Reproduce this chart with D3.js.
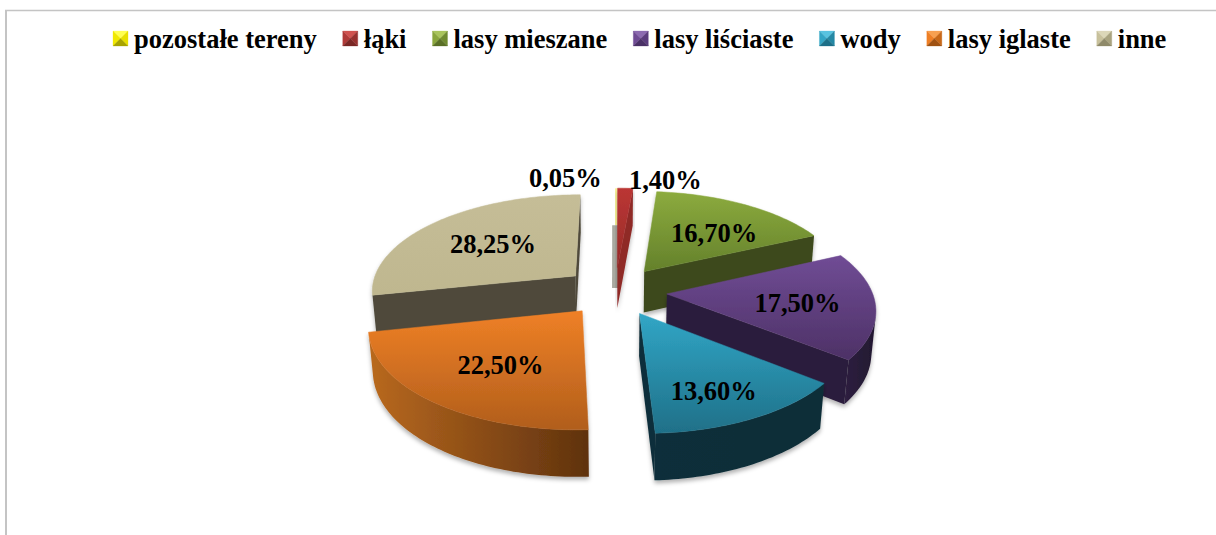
<!DOCTYPE html>
<html><head><meta charset="utf-8">
<script src="https://cdn.jsdelivr.net/npm/d3@7/dist/d3.min.js"></script>
<style>html,body{margin:0;padding:0;background:#fff}svg{display:block}text{font-family:"Liberation Serif",serif;font-weight:bold;fill:#000}</style>
</head><body><svg id="c" width="1216" height="535"></svg>
<script>
const categories=["pozostałe tereny","łąki","lasy mieszane","lasy liściaste","wody","lasy iglaste","inne"];
const values=[0.05,1.40,16.70,17.50,13.60,22.50,28.25];
const valueLabels=["0,05%","1,40%","16,70%","17,50%","13,60%","22,50%","28,25%"];
const topColors=[["#fbf59a","#f5ee90"],["#bb3634","#962a28"],["#8cab3e","#64812b"],["#704c95","#4d3166"],["#31a6c6","#1f7088"],["#ef8026","#b15e1c"],["#c5bd97","#bfb78f"]];
const rimColors=[["#8f8f70","#8f8f70"],["#7d2422","#8f2b29"],["#3f4c1b","#3a4618"],["#2e2040","#221830"],["#0f2f3a","#0f2e38"],["#b9691f","#5f320e"],["#524d3c","#4d483a"]];
const wallColors=["#b0b09a","#8f2a28","#3d4a1c","#2c1f3c","#0f2f3a","#63340f","#4f4a3b"];
const legendSwatch=[["#ffff50","#f0e800","#e8e000","#a8a400"],["#d0524f","#b03a38","#96302e","#7a2725"],["#a9c45c","#8aa63c","#6f8a2f","#5a7026"],["#8c6ab0","#6f4b94","#5a3b7c","#4a3066"],["#58c3e0","#33a5c5","#2488a4","#1c6f88"],["#f7a050","#ee7f25","#c86818","#a05212"],["#dcd7b8","#c8c19c","#a9a37f","#8f8a6a"]];
const labelFrac=[1.08,1.15,0.62,0.62,0.62,0.62,0.62];
const labelNudge=[[-50,-5],[39,2],[5,4],[2,2],[7,16],[7,0],[7,2]];

const W=1216,H=535,R=205,explode=52,h=48,sinP=0.47,cosP=Math.sqrt(1-sinP*sinP),D=1300,cx=615,cy=291;
const svg=d3.select("#c");
const defs=svg.append("defs");
const f=defs.append("filter").attr("id","sh").attr("x","-10%").attr("y","-10%").attr("width","120%").attr("height","125%");
f.append("feDropShadow").attr("dx",0).attr("dy",3).attr("stdDeviation",2.2).attr("flood-color","#000").attr("flood-opacity",0.3);
defs.append("filter").attr("id","soft").attr("x","-100%").attr("y","-20%").attr("width","300%").attr("height","140%").append("feGaussianBlur").attr("stdDeviation",0.7);

svg.append("line").attr("x1",6).attr("x2",6).attr("y1",10).attr("y2",H).attr("stroke","#c4c4c4").attr("stroke-width",2);
svg.append("line").attr("x1",5).attr("x2",W).attr("y1",10.5).attr("y2",10.5).attr("stroke","#c4c4c4").attr("stroke-width",1.5);

function project(X,Y,Z){
  const yy=Y*sinP+Z*cosP, dp=Y*cosP-Z*sinP, p=1/(1+dp/D);
  return [cx+X*p, cy-yy*p];
}
const pie=d3.pie().sort(null).value(d=>d);
const arcs=pie(values);
const line=d3.line();
const area2=q=>{let s=0;for(let i=0;i<q.length;i++){const a=q[i],b=q[(i+1)%q.length];s+=a[0]*b[1]-b[0]*a[1];}return s/2;};

function grad(id,cols,x2,y2){
  const g=defs.append("linearGradient").attr("id",id).attr("x1",0).attr("y1",0).attr("x2",x2).attr("y2",y2);
  g.append("stop").attr("offset",0).attr("stop-color",cols[0]);
  g.append("stop").attr("offset",1).attr("stop-color",cols[1]);
}
const order=[6,0,1,2,3,5,4];
const g=svg.append("g");
order.forEach(i=>{
  const a=arcs[i], mid=(a.startAngle+a.endAngle)/2;
  const ox=explode*Math.sin(mid), oy=explode*Math.cos(mid);
  const pt=(ang,r,z)=>project(ox+r*Math.sin(ang),oy+r*Math.cos(ang),z);
  const n=Math.max(2,Math.ceil((a.endAngle-a.startAngle)/0.02));
  const angs=d3.range(n+1).map(k=>a.startAngle+(a.endAngle-a.startAngle)*k/n);
  grad("t"+i,topColors[i],0,1);
  grad("r"+i,rimColors[i],1,0);
  if(i===0){
    // the almost empty slice: a pale sliver with a grey side below it
    const s=pt(mid,R,0), e=pt(mid,R*0.5,0), w0=pt(mid,R*0.5,0), w1=pt(mid,0,-h*0.5);
    g.append("path").attr("d",line([[s[0]+1,s[1]],[e[0]+1,e[1]]])).attr("stroke",topColors[0][0]).attr("stroke-width",2.5).attr("fill","none");
    g.append("path").attr("d",line([[w0[0]-3,w0[1]],[w0[0]+3,w0[1]],[w1[0]+3,w1[1]],[w1[0]-3,w1[1]]])+"Z").attr("fill","#a9a9a0").attr("filter","url(#soft)");
    return;
  }
  const sg=g.append("g").attr("filter","url(#sh)");
  const wallS=[pt(a.startAngle,0,0),pt(a.startAngle,R,0),pt(a.startAngle,R,-h),pt(a.startAngle,0,-h)];
  const wallE=[pt(a.endAngle,0,0),pt(a.endAngle,0,-h),pt(a.endAngle,R,-h),pt(a.endAngle,R,0)];
  [wallS,wallE].forEach(q=>{ if(area2(q)<0) sg.append("path").attr("d",line(q)+"Z").attr("fill",wallColors[i]); });
  const tops=angs.map(t=>pt(t,R,0)), bots=angs.map(t=>pt(t,R,-h));
  const vis=[];
  for(let k=0;k<n;k++){ if(area2([tops[k],bots[k],bots[k+1],tops[k+1]])>0) vis.push(k); }
  if(vis.length){
    const k0=vis[0],k1=vis[vis.length-1]+1;
    const poly=tops.slice(k0,k1+1).concat(bots.slice(k0,k1+1).reverse());
    sg.append("path").attr("d",line(poly)+"Z").attr("fill",`url(#r${i})`);
  }
  const topPoly=[pt(a.startAngle,0,0)].concat(tops);
  sg.append("path").attr("d",line(topPoly)+"Z").attr("fill",`url(#t${i})`).attr("stroke",`url(#t${i})`).attr("stroke-width",0.5);
});

const lab=svg.append("g").attr("font-size",26.5).attr("text-anchor","middle");
arcs.forEach((a,i)=>{
  const mid=(a.startAngle+a.endAngle)/2;
  const ox=explode*Math.sin(mid), oy=explode*Math.cos(mid);
  const p=project(ox+labelFrac[i]*R*Math.sin(mid),oy+labelFrac[i]*R*Math.cos(mid),0);
  lab.append("text").attr("x",p[0]+labelNudge[i][0]).attr("y",p[1]+labelNudge[i][1]).attr("dy","0.35em").text(valueLabels[i]);
});

const lg=svg.append("g").attr("font-size",26.5);
let lx=113;const ly=38,sw=15,gap=26,toText=21;
categories.forEach((c,i)=>{
  const it=lg.append("g").attr("transform",`translate(${lx},${ly})`);
  const x0=0,x1=sw,y0=-7,y1=8,mx=sw/2,my=0.5;
  const col=legendSwatch[i];
  [[[x0,y0],[x1,y0],[mx,my]],[[x0,y0],[x0,y1],[mx,my]],[[x1,y0],[x1,y1],[mx,my]],[[x0,y1],[x1,y1],[mx,my]]].forEach((t,k)=>{
    it.append("path").attr("d",line(t)+"Z").attr("fill",col[k]).attr("stroke",col[k]).attr("stroke-width",0.3);
  });
  const t=it.append("text").attr("x",toText).attr("y",10).text(c);
  lx+=toText+t.node().getComputedTextLength()+gap;
});
</script></body></html>
